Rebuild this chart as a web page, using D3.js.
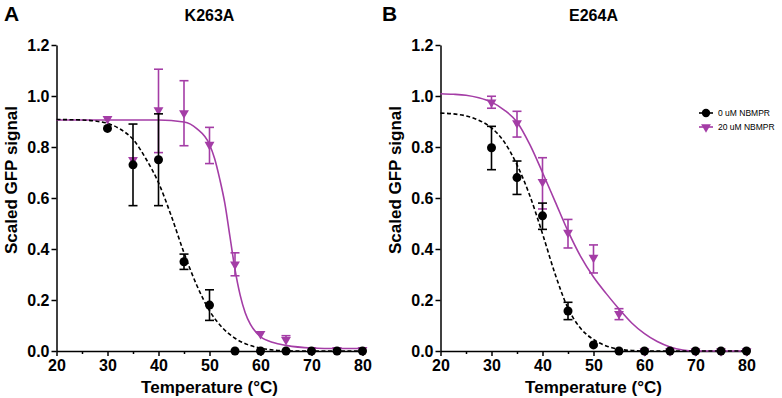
<!DOCTYPE html>
<html>
<head>
<meta charset="utf-8">
<script src="https://cdn.jsdelivr.net/npm/d3@7"></script>
<style>
  body { margin: 0; background: #fff; }
  svg { font-family: "Liberation Sans", Arial, Helvetica, sans-serif; }
</style>
</head>
<body>
<svg width="782" height="398"></svg>
<script>
// measured points (temperature in °C, scaled GFP signal)
const temperatures = [30, 35, 40, 45, 50, 55, 60, 65, 70, 75, 80];

// K263A
const k263aNoDrug = [0.873, 0.73, 0.75, 0.35, 0.18, 0, 0, 0, 0, 0, 0];
const k263aNoDrugLow = [null, 0.57, 0.57, 0.32, 0.12, null, null, null, null, null, null];
const k263aNoDrugHigh = [null, 0.89, 0.93, 0.38, 0.24, null, null, null, null, null, null];
const k263aDrug = [0.91, 0.75, 0.945, 0.933, 0.809, 0.34, 0.067, 0.044, 0.005, 0.005, 0.005];
const k263aDrugLow = [null, null, 0.778, 0.805, 0.735, 0.295, null, null, null, null, null];
const k263aDrugHigh = [null, null, 1.105, 1.06, 0.877, 0.385, null, 0.06, null, null, null];

// E264A
const e264aNoDrug = [0.797, 0.68, 0.53, 0.157, 0.024, 0, 0, 0, 0, 0, 0];
const e264aNoDrugLow = [0.711, 0.614, 0.477, 0.123, null, null, null, null, null, null, null];
const e264aNoDrugHigh = [0.881, 0.745, 0.58, 0.191, null, null, null, null, null, null, null];
const e264aDrug = [0.975, 0.894, 0.663, 0.464, 0.366, 0.146, 0, 0, 0, 0, 0];
const e264aDrugLow = [0.952, 0.839, 0.557, 0.404, 0.306, 0.123, null, null, null, null, null];
const e264aDrugHigh = [0.999, 0.94, 0.758, 0.516, 0.416, 0.166, null, null, null, null, null];

// fitted curves
const fitTemps = [20, 22.5, 25, 27.5, 30, 32.5, 35, 37.5, 40, 42.5, 45, 47.5, 50,
  52.5, 55, 57.5, 60, 62.5, 65, 67.5, 70, 72.5, 75, 77.5, 80];
const k263aNoDrugFit = [0.908, 0.907, 0.906, 0.902, 0.893, 0.87, 0.83, 0.755, 0.66, 0.53, 0.385, 0.258, 0.158,
  0.092, 0.05, 0.025, 0.011, 0.004, 0.001, 0, 0, 0, 0, 0, 0];
const k263aDrugFitTemps = [20, 30, 40, 45, 47.5, 50, 51, 52, 53, 54, 55, 56, 57, 58, 60, 62.5, 65, 70, 75, 80];
const k263aDrugFit = [0.906, 0.906, 0.906, 0.898, 0.872, 0.81, 0.755, 0.675, 0.58, 0.45, 0.32, 0.22, 0.15,
  0.105, 0.056, 0.033, 0.022, 0.012, 0.01, 0.01];
const e264aNoDrugFit = [0.933, 0.93, 0.922, 0.905, 0.875, 0.82, 0.73, 0.61, 0.46, 0.3, 0.168, 0.088, 0.045,
  0.02, 0.007, 0.002, 0, 0, 0, 0, 0, 0, 0, 0, 0];
const e264aDrugFit = [1.009, 1.007, 1.003, 0.993, 0.976, 0.945, 0.898, 0.81, 0.7, 0.585, 0.47, 0.37, 0.29,
  0.225, 0.165, 0.11, 0.068, 0.037, 0.016, 0.004, 0, 0, 0, 0, 0];

const xTicks = [20, 30, 40, 50, 60, 70, 80];
const xMinorTicks = [25, 35, 45, 55, 65, 75];
const yTicks = [0, 0.2, 0.4, 0.6, 0.8, 1.0, 1.2];
const legendLabels = ['0 uM NBMPR', '20 uM NBMPR'];

(function (d3) {
  'use strict';

  const purple = '#a43da6';
  const svg = d3.select('svg');

  const panel = (selection, props) => {
    const {
      left, width, letter, letterX, title,
      noDrug, noDrugLow, noDrugHigh,
      drug, drugLow, drugHigh,
      noDrugFit, drugFitTemps, drugFit,
      legend
    } = props;

    const xScale = d3.scaleLinear().domain([20, 80]).range([left, left + width]);
    const yScale = d3.scaleLinear().domain([0, 1.2]).range([351, 45]);
    const g = selection.append('g');

    // axes
    const yAxisG = g.append('g')
      .attr('transform', `translate(${left},0)`)
      .call(d3.axisLeft(yScale).tickValues(yTicks).tickFormat(d3.format('.1f'))
        .tickSize(5).tickSizeOuter(0).tickPadding(2));
    const xAxisG = g.append('g')
      .attr('transform', `translate(0,${yScale(0)})`)
      .call(d3.axisBottom(xScale).tickValues(xTicks).tickFormat(d3.format('d'))
        .tickSize(5).tickSizeOuter(0).tickPadding(4));
    g.append('g')
      .attr('transform', `translate(0,${yScale(0)})`)
      .call(d3.axisBottom(xScale).tickValues(xMinorTicks).tickFormat('')
        .tickSize(3).tickSizeOuter(0))
      .select('.domain').remove();

    g.selectAll('.domain, .tick line')
      .attr('stroke', '#000')
      .attr('stroke-width', 1.5);
    [xAxisG, yAxisG].forEach(a => a.selectAll('text')
      .attr('fill', '#000')
      .style('font-size', '16px')
      .style('font-weight', 'bold'));

    // labels
    g.append('text')
      .attr('x', letterX).attr('y', 21)
      .style('font-size', '21px').style('font-weight', 'bold')
      .text(letter);
    g.append('text')
      .attr('x', left + width / 2).attr('y', 21)
      .attr('text-anchor', 'middle')
      .style('font-size', '16px').style('font-weight', 'bold')
      .text(title);
    g.append('text')
      .attr('x', left + width / 2).attr('y', 393)
      .attr('text-anchor', 'middle')
      .style('font-size', '17px').style('font-weight', 'bold')
      .text('Temperature (°C)');
    g.append('text')
      .attr('transform', `translate(${left - 39.5},180) rotate(-90)`)
      .attr('text-anchor', 'middle')
      .style('font-size', '17px').style('font-weight', 'bold')
      .text('Scaled GFP signal');

    // fitted curves
    const line = d3.line()
      .x(d => xScale(d[0]))
      .y(d => yScale(d[1]))
      .curve(d3.curveMonotoneX);

    g.append('path')
      .datum(d3.zip(drugFitTemps, drugFit))
      .attr('fill', 'none')
      .attr('stroke', purple)
      .attr('stroke-width', 1.6)
      .attr('d', line);
    g.append('path')
      .datum(d3.zip(fitTemps, noDrugFit))
      .attr('fill', 'none')
      .attr('stroke', '#000')
      .attr('stroke-width', 1.6)
      .attr('stroke-dasharray', '4,2.5')
      .attr('d', line);

    const triangle = d3.symbol(d3.symbolTriangle, 42);

    const drawSeries = (values, lows, highs, color, marker) => {
      const rows = temperatures.map((t, i) => ({ t, v: values[i], lo: lows[i], hi: highs[i] }));
      const bars = rows.filter(d => d.hi !== null || d.lo !== null);
      const sg = g.append('g');
      bars.forEach(d => {
        const top = yScale(d.hi !== null ? d.hi : d.v);
        const bottom = yScale(d.lo !== null ? d.lo : d.v);
        const cx = xScale(d.t);
        sg.append('line')
          .attr('x1', cx).attr('x2', cx).attr('y1', top).attr('y2', bottom);
        if (d.hi !== null) sg.append('line')
          .attr('x1', cx - 4.5).attr('x2', cx + 4.5).attr('y1', top).attr('y2', top);
        if (d.lo !== null) sg.append('line')
          .attr('x1', cx - 4.5).attr('x2', cx + 4.5).attr('y1', bottom).attr('y2', bottom);
      });
      sg.selectAll('line').attr('stroke', color).attr('stroke-width', 1.6);

      if (marker === 'circle') {
        sg.selectAll('circle').data(rows).enter().append('circle')
          .attr('cx', d => xScale(d.t))
          .attr('cy', d => yScale(d.v))
          .attr('r', 4.5)
          .attr('fill', color);
      } else {
        sg.selectAll('path').data(rows).enter().append('path')
          .attr('d', triangle)
          .attr('transform', d => `translate(${xScale(d.t)},${yScale(d.v)}) rotate(180)`)
          .attr('fill', color);
      }
    };

    drawSeries(drug, drugLow, drugHigh, purple, 'triangle');
    drawSeries(noDrug, noDrugLow, noDrugHigh, '#000', 'circle');

    if (legend) {
      const lg = g.append('g').attr('transform', 'translate(699,113)');
      const items = lg.selectAll('g').data(legendLabels).enter().append('g')
        .attr('transform', (d, i) => `translate(0,${i * 14})`);
      items.append('line')
        .attr('x1', 0).attr('x2', 14)
        .attr('stroke', (d, i) => i === 0 ? '#000' : purple)
        .attr('stroke-width', 1.6);
      items.filter((d, i) => i === 0).append('circle')
        .attr('cx', 7).attr('r', 4.2).attr('fill', '#000');
      items.filter((d, i) => i === 1).append('path')
        .attr('d', triangle)
        .attr('transform', 'translate(7,0) rotate(180)')
        .attr('fill', purple);
      items.append('text')
        .attr('x', 19)
        .attr('dy', '0.35em')
        .style('font-size', '8.5px')
        .text(d => d);
    }
  };

  svg.call(panel, {
    left: 56.5, width: 306, letter: 'A', letterX: 4, title: 'K263A',
    noDrug: k263aNoDrug, noDrugLow: k263aNoDrugLow, noDrugHigh: k263aNoDrugHigh,
    drug: k263aDrug, drugLow: k263aDrugLow, drugHigh: k263aDrugHigh,
    noDrugFit: k263aNoDrugFit, drugFitTemps: k263aDrugFitTemps, drugFit: k263aDrugFit,
    legend: false
  });

  svg.call(panel, {
    left: 440.5, width: 306, letter: 'B', letterX: 382, title: 'E264A',
    noDrug: e264aNoDrug, noDrugLow: e264aNoDrugLow, noDrugHigh: e264aNoDrugHigh,
    drug: e264aDrug, drugLow: e264aDrugLow, drugHigh: e264aDrugHigh,
    noDrugFit: e264aNoDrugFit, drugFitTemps: fitTemps, drugFit: e264aDrugFit,
    legend: true
  });

}(d3));
</script>
</body>
</html>
